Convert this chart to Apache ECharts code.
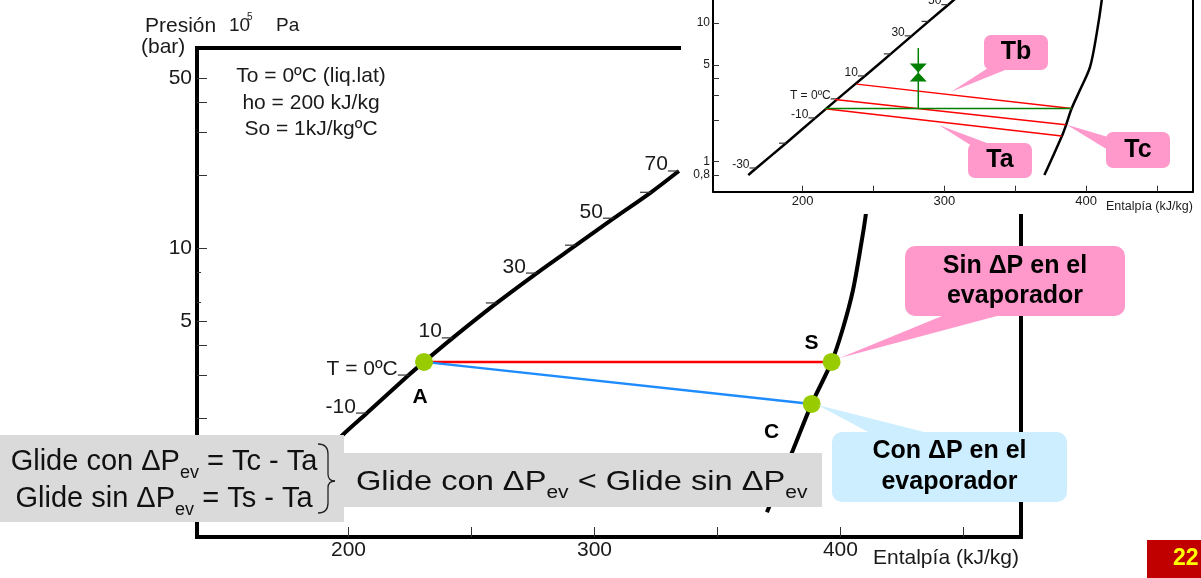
<!DOCTYPE html>
<html>
<head>
<meta charset="utf-8">
<script src="https://cdn.jsdelivr.net/npm/echarts@6/dist/echarts.min.js"></script>
<style>
  html, body { margin: 0; padding: 0; background: #fff; }
  #chart { width: 1201px; height: 578px; }
</style>
</head>
<body>
<div id="chart"></div>
<script>
// p-h diagram of a zeotropic refrigerant: evaporation with and without pressure drop.
// Enthalpy in kJ/kg, pressure in bar (plotted on a base-10 log scale).

// ---- main diagram ----
const liqMainH = [188.4, 197.7, 207.5, 224.5, 230.7, 242.4, 260.3, 276.6, 292.5, 307.9, 323.0, 334.3];
const liqMainP = [1.38, 1.71, 2.10, 3.01, 3.41, 4.28, 5.96, 7.91, 10.3, 13.3, 17.0, 20.8];
const vapMainH = [370.1, 380.7, 388.3, 396.4, 400.8, 405.1, 408.7, 410.1, 411.0];
const vapMainP = [0.82, 1.48, 2.29, 3.41, 4.61, 6.74, 10.8, 13.3, 15.8];
const tempMainH = [207.5, 224.5, 242.4, 260.3, 276.6, 292.5, 307.9, 323.0, 334.3];
const tempMainP = [2.10, 3.01, 4.28, 5.96, 7.91, 10.3, 13.3, 17.0, 20.8];
const tempMainLabels = ['-10', 'T = 0ºC', '10', '', '30', '', '50', '', '70'];
const markNames = ['A', 'S', 'C'];
const markH = [230.7, 396.4, 388.3];
const markP = [3.41, 3.41, 2.29];

const hTicksMain = [200, 250, 300, 350, 400, 450];
const hLabelsMain = [200, 300, 400];
const pTicksMain = [2, 3, 4, 5, 10, 20, 30, 40, 50];
const pMinorTicksMain = [6, 8];
const pLabelsMain = [5, 10, 50];
const hRangeMain = [138.4, 473.4];
const pRangeMain = [0.649, 66.7];

// ---- small diagram ----
const liqInsetH = [161.6, 167.4, 188.2, 209.0, 224.7, 243.9, 262.2, 277.0, 288.9, 302.8, 331.5];
const liqInsetP = [0.80, 0.90, 1.36, 2.07, 2.84, 4.16, 6.00, 8.10, 10.3, 13.6, 24.3];
const vapInsetH = [370.6, 383.3, 385.9, 389.9, 395.8, 402.9, 407.6, 411.1, 413.4];
const vapInsetP = [0.80, 1.56, 1.84, 2.43, 3.30, 4.86, 8.51, 14.7, 24.3];
const tempInsetH = [167.4, 188.2, 209.0, 224.7, 243.9, 262.2, 277.0, 288.9, 302.8];
const tempInsetP = [0.90, 1.36, 2.07, 2.84, 4.16, 6.00, 8.10, 10.3, 13.6];
const tempInsetLabels = ['-30', '', '-10', 'T = 0ºC', '10', '', '30', '', '50'];
const isoTopH = [238.1, 389.9], isoTopP = [3.63, 2.42];
const isoMidH = [222.8, 385.7], isoMidP = [2.81, 1.85];
const isoLowH = [215.8, 382.9], isoLowP = [2.41, 1.53];
const evapLineH = [215.8, 389.9], evapLineP = [2.42, 2.42];
const valveLineH = [281.6, 281.6], valveLineP = [6.63, 2.42];
const valveH = 281.6, valveP = 4.41;

const hTicksInset = [200, 250, 300, 350, 400, 450];
const hLabelsInset = [200, 300, 400];
const pTicksInset = [0.8, 1, 2, 3, 4, 5, 10];
const pLabelsInset = [0.8, 1, 5, 10];
const hRangeInset = [136.7, 475.5];
const pRangeInset = [0.607, 14.7];

// ---------------------------------------------------------------
const FONT = '"Liberation Sans", Arial, sans-serif';
const lg = Math.log10;
const pairs = (hs, ps) => hs.map((h, i) => [h, lg(ps[i])]);
const fmtP = v => {
  const n = Math.pow(10, v);
  return n < 1 ? n.toFixed(1).replace('.', ',') : String(Math.round(n));
};

const chart = echarts.init(document.getElementById('chart'), null, { renderer: 'canvas' });

function hAxis(gridIndex, range, ticks, labels, z, size, tickLen, margin, lineW) {
  return {
    type: 'value', gridIndex, min: range[0], max: range[1], z, position: 'bottom',
    axisLine: { show: lineW > 0, onZero: false, lineStyle: { color: '#000', width: lineW || 1 } },
    splitLine: { show: false },
    axisTick: { show: true, inside: true, length: tickLen, customValues: ticks, lineStyle: { color: '#333', width: 1 } },
    axisLabel: { show: true, customValues: labels, hideOverlap: false, fontSize: size, color: '#1a1a1a', fontFamily: FONT, margin }
  };
}
function pAxis(gridIndex, range, ticks, labels, z, size, tickLen, margin, lineW, pos) {
  return {
    type: 'value', gridIndex, min: lg(range[0]), max: lg(range[1]), z, position: pos || 'left',
    axisLine: { show: lineW > 0, onZero: false, lineStyle: { color: '#000', width: lineW || 1 } },
    splitLine: { show: false },
    axisTick: ticks ? { show: true, inside: true, length: tickLen, customValues: ticks.map(lg), lineStyle: { color: '#333', width: 1 } } : { show: false },
    axisLabel: labels ? { show: true, customValues: labels.map(lg), hideOverlap: false, formatter: fmtP, fontSize: size, color: '#1a1a1a', fontFamily: FONT, margin } : { show: false }
  };
}

function curve(hs, ps, xi, yi, width, z) {
  return { type: 'line', xAxisIndex: xi, yAxisIndex: yi, data: pairs(hs, ps), symbol: 'none', smooth: 0.3,
    silent: true, z, lineStyle: { color: '#000', width } };
}
function seg(hs, ps, xi, yi, color, width, z) {
  return { type: 'line', xAxisIndex: xi, yAxisIndex: yi, data: pairs(hs, ps), symbol: 'none',
    silent: true, z, lineStyle: { color, width } };
}
function tempTicks(hs, ps, labels, xi, yi, len, size, z) {
  return {
    type: 'scatter', xAxisIndex: xi, yAxisIndex: yi, z, silent: true,
    symbol: 'rect', symbolSize: [len, 1.2], symbolOffset: [-len / 2, 0],
    itemStyle: { color: '#333', opacity: 1 },
    data: hs.map((h, i) => ({ name: labels[i], value: [h, lg(ps[i])] })),
    label: { show: true, formatter: p => p.name, position: 'left', distance: 0, verticalAlign: 'bottom',
      offset: [0, size * 0.2], fontSize: size, color: '#1a1a1a', fontFamily: FONT }
  };
}

const markLabelOffset = { A: [-4, 35], S: [-20, -19], C: [-40, 28] };

const option = {
  animation: false,
  textStyle: { fontFamily: FONT },
  grid: [
    { left: 197, top: 48, width: 824, height: 489, show: true, borderColor: '#000', borderWidth: 4,
      backgroundColor: 'transparent', z: 0, outerBoundsMode: 'none', containLabel: false },
    { left: 713, top: 0, width: 480, height: 191.7, show: false, z: 10, outerBoundsMode: 'none', containLabel: false }
  ],
  xAxis: [
    hAxis(0, hRangeMain, hTicksMain, hLabelsMain, 0, 21, 10, 3, 0),
    hAxis(1, hRangeInset, hTicksInset, hLabelsInset, 11, 13, 6, 3, 2)
  ],
  yAxis: [
    pAxis(0, pRangeMain, pTicksMain, pLabelsMain, 0, 21, 10, 5, 0),
    pAxis(0, pRangeMain, pMinorTicksMain, null, 0, 21, 4, 5, 0),
    pAxis(1, pRangeInset, pTicksInset, pLabelsInset, 11, 12, 6, 3, 2),
    pAxis(1, pRangeInset, null, null, 11, 12, 6, 3, 2, 'right')
  ],
  series: [
    // main diagram
    curve(liqMainH, liqMainP, 0, 0, 4, 2),
    curve(vapMainH, vapMainP, 0, 0, 4, 2),
    tempTicks(tempMainH, tempMainP, tempMainLabels, 0, 0, 11, 21, 2),
    seg([markH[0], markH[1]], [markP[0], markP[1]], 0, 0, '#ff0000', 2.5, 3),
    seg([markH[0], markH[2]], [markP[0], markP[2]], 0, 0, '#1e8cff', 2.5, 3),
    {
      type: 'scatter', xAxisIndex: 0, yAxisIndex: 0, z: 5, silent: true,
      symbol: 'circle', symbolSize: 18, itemStyle: { color: '#99cc00', opacity: 1 },
      data: markNames.map((n, i) => ({ name: n, value: [markH[i], lg(markP[i])], label: { offset: markLabelOffset[n] } })),
      label: { show: true, position: 'inside', formatter: p => p.name, fontSize: 21, fontWeight: 'bold', color: '#000', fontFamily: FONT }
    },
    // small diagram
    curve(liqInsetH, liqInsetP, 1, 2, 2.5, 12),
    curve(vapInsetH, vapInsetP, 1, 2, 2.5, 12),
    tempTicks(tempInsetH, tempInsetP, tempInsetLabels, 1, 2, 7, 12, 12),
    seg(isoTopH, isoTopP, 1, 2, '#ff0000', 1.5, 13),
    seg(isoMidH, isoMidP, 1, 2, '#ff0000', 1.5, 13),
    seg(isoLowH, isoLowP, 1, 2, '#ff0000', 1.5, 13),
    seg(evapLineH, evapLineP, 1, 2, '#008000', 1.5, 13),
    seg(valveLineH, valveLineP, 1, 2, '#008000', 1.5, 13),
    {
      type: 'scatter', xAxisIndex: 1, yAxisIndex: 2, z: 14, silent: true,
      symbol: 'path://M0,0L16,0L8,9L16,18L0,18L8,9Z', symbolSize: [17, 18],
      itemStyle: { color: '#008000', opacity: 1 }, data: [[valveH, lg(valveP)]]
    }
  ]
};
chart.setOption(option);

// ---- annotations ----
const toMain = (h, p) => chart.convertToPixel({ xAxisIndex: 0, yAxisIndex: 0 }, [h, lg(p)]);
const toInset = (h, p) => chart.convertToPixel({ xAxisIndex: 1, yAxisIndex: 2 }, [h, lg(p)]);
const along = (hs, ps, t, dx, dy) => {
  const a = toInset(hs[0], ps[0]), b = toInset(hs[1], ps[1]);
  return [a[0] + (b[0] - a[0]) * t + dx, a[1] + (b[1] - a[1]) * t + dy];
};
const ptS = toMain(markH[1], markP[1]);
const ptC = toMain(markH[2], markP[2]);

const PINK = '#ff99cc', BLUE = '#cceeff', GREY = '#dadada';
const txt = (x, y, text, size, extra) => ({
  type: 'text', x, y, z: 21,
  style: Object.assign({ text, fontSize: size, fontFamily: FONT, fill: '#1a1a1a', align: 'left', verticalAlign: 'middle' }, extra || {})
});
function callout(box, base, tip, fill, text, size, lh) {
  return [
    { type: 'polygon', z: 20, shape: { points: [base[0], base[1], tip] }, style: { fill } },
    { type: 'rect', z: 20, shape: { x: box[0], y: box[1], width: box[2], height: box[3], r: box[4] }, style: { fill } },
    { type: 'text', z: 21, x: box[0] + box[2] / 2, y: box[1] + box[3] / 2,
      style: { text, fontSize: size, fontWeight: 'bold', fontFamily: FONT, fill: '#000', align: 'center', verticalAlign: 'middle', lineHeight: lh } }
  ];
}

const subRich = (size, sub) => ({
  m: { fontSize: size, fontFamily: FONT, fill: '#111', lineHeight: size + 12 },
  s: { fontSize: sub, fontFamily: FONT, fill: '#111', lineHeight: sub + 4, verticalAlign: 'bottom' }
});

// right curly brace joining the two glide lines
const braceStyle = { fill: 'none', stroke: '#222', lineWidth: 1.3 };
const brace = [
  { type: 'bezierCurve', z: 21, shape: { x1: 318, y1: 444, cpx1: 328, cpy1: 444, x2: 328, y2: 454 }, style: braceStyle },
  { type: 'line', z: 21, shape: { x1: 328, y1: 454, x2: 328, y2: 474 }, style: braceStyle },
  { type: 'bezierCurve', z: 21, shape: { x1: 328, y1: 474, cpx1: 328, cpy1: 481, x2: 335, y2: 481 }, style: braceStyle },
  { type: 'bezierCurve', z: 21, shape: { x1: 335, y1: 481, cpx1: 328, cpy1: 481, x2: 328, y2: 488 }, style: braceStyle },
  { type: 'line', z: 21, shape: { x1: 328, y1: 488, x2: 328, y2: 503 }, style: braceStyle },
  { type: 'bezierCurve', z: 21, shape: { x1: 328, y1: 503, cpx1: 328, cpy1: 513, x2: 318, y2: 513 }, style: braceStyle }
];

const graphic = [
  // white backdrop of the small diagram
  { type: 'rect', z: 5, shape: { x: 681, y: 0, width: 520, height: 214 }, style: { fill: '#fff' } },
  txt(1106, 207, 'Entalpía (kJ/kg)', 12.5, {}),

  // axis titles and reference state
  txt(145, 26, 'Presión', 21),
  txt(229, 26, '10', 19),
  txt(247, 17, '5', 10),
  txt(276, 26, 'Pa', 19),
  txt(141, 47, '(bar)', 21),
  txt(311, 76, 'To = 0ºC (liq.lat)', 21, { align: 'center' }),
  txt(311, 103, 'ho = 200 kJ/kg', 21, { align: 'center' }),
  txt(311, 129, 'So = 1kJ/kgºC', 21, { align: 'center' }),
  txt(873, 558, 'Entalpía (kJ/kg)', 21),

  // glide comparison boxes
  { type: 'rect', z: 20, shape: { x: 0, y: 435, width: 344, height: 87 }, style: { fill: GREY } },
  { type: 'rect', z: 20, shape: { x: 344, y: 453, width: 478, height: 54 }, style: { fill: GREY } },
  { type: 'text', z: 21, x: 164, y: 462, style: { text: '{m|Glide con ΔP}{s|ev}{m| = Tc - Ta}', rich: subRich(29, 18), align: 'center', verticalAlign: 'middle' } },
  { type: 'text', z: 21, x: 164, y: 499, style: { text: '{m|Glide sin ΔP}{s|ev}{m| = Ts - Ta}', rich: subRich(29, 18), align: 'center', verticalAlign: 'middle' } },
  ...brace,
  { type: 'text', z: 21, x: 356, y: 482, scaleX: 1.165, originX: 0,
    style: { text: '{m|Glide con ΔP}{s|ev}{m| < Glide sin ΔP}{s|ev}', rich: subRich(28, 18), align: 'left', verticalAlign: 'middle' } },

  // page number
  { type: 'rect', z: 20, shape: { x: 1147, y: 540, width: 60, height: 40 }, style: { fill: '#c00000' } },
  { type: 'text', z: 21, x: 1173, y: 559, style: { text: '22', fontSize: 23, fontWeight: 'bold', fontFamily: FONT, fill: '#ffff00', verticalAlign: 'middle' } }
];

graphic.push(...callout([905, 246, 220, 70, 10], [[942, 316], [997, 316]], [ptS[0] + 8, ptS[1] - 4], PINK, 'Sin ΔP en el\nevaporador', 25, 30));
graphic.push(...callout([832, 432, 235, 70, 10], [[870, 433], [928, 433]], [ptC[0] + 6, ptC[1] + 1], BLUE, 'Con ΔP en el\nevaporador', 25, 31));
graphic.push(...callout([984, 35, 64, 35, 7], [[988, 68], [1010, 68]], along(isoTopH, isoTopP, 0.44, 0, -3), PINK, 'Tb', 25, 30));
graphic.push(...callout([968, 143, 64, 35, 7], [[972, 146], [995, 146]], along(isoLowH, isoLowP, 0.48, 0, 3), PINK, 'Ta', 25, 30));
graphic.push(...callout([1106, 132, 64, 36, 7], [[1108, 137], [1108, 150]], along(isoMidH, isoMidP, 1, 1, 0), PINK, 'Tc', 25, 30));

chart.setOption({ graphic });
</script>
</body>
</html>
